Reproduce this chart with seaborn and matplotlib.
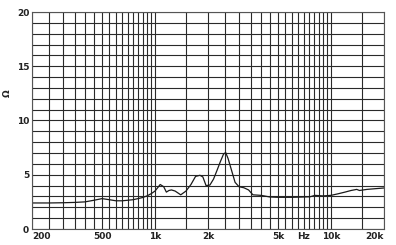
import matplotlib
matplotlib.use("Agg")
import matplotlib.pyplot as plt
import seaborn as sns
import numpy as np
import pandas as pd

freq = [200, 250, 300, 350, 400, 450, 500, 550, 600, 650, 700, 750, 800, 850, 900, 950,
        1000, 1070, 1120, 1160, 1200, 1240, 1300, 1400, 1500, 1600, 1700, 1800, 1870,
        1950, 2050, 2150, 2250, 2350, 2450, 2520, 2600, 2700, 2850, 3000, 3200, 3400,
        3600, 4000, 4500, 5000, 6000, 7000, 7600, 8100, 9000, 10000, 11000, 12000, 13000,
        14000, 14500, 16000, 18000, 20000]
impedance = [2.4, 2.4, 2.42, 2.45, 2.5, 2.65, 2.8, 2.7, 2.6, 2.6, 2.65, 2.7, 2.8, 2.9,
             3.05, 3.25, 3.5, 4.1, 3.9, 3.4, 3.55, 3.6, 3.5, 3.15, 3.5, 4.1, 4.85, 4.95,
             4.8, 4.0, 4.05, 4.6, 5.4, 6.2, 6.9, 7.05, 6.5, 5.6, 4.3, 3.9, 3.8, 3.6,
             3.15, 3.1, 2.95, 2.92, 2.92, 2.95, 2.97, 3.1, 3.05, 3.1, 3.25, 3.4, 3.55,
             3.65, 3.55, 3.65, 3.72, 3.78]

grid_freqs = list(range(250, 1000, 50)) + list(range(1000, 10001, 500)) + [15000]
label_freqs = [200, 500, 1000, 2000, 5000, 7000, 10000, 20000]
label_texts = ["200", "500", "1k", "2k", "5k", "Hz", "10k", "20k"]
y_ticks = [0, 5, 10, 15, 20]
y_grid = list(range(0, 21))

df = pd.DataFrame({"f": freq, "z": impedance})

sns.set_style("white")
fig = plt.figure(figsize=(3.96, 2.45), dpi=100)
ax = fig.add_axes([32 / 396, 16 / 245, 352 / 396, 217 / 245])

sns.lineplot(data=df, x="f", y="z", ax=ax, color="#1a1a1a", linewidth=0.9)
ax.set_xscale("log")
ax.set_xlim(200, 20000)
ax.set_ylim(0, 20)

ax.set_xticks(label_freqs)
ax.set_xticklabels(label_texts)
ax.set_xticks(grid_freqs, minor=True)
ax.xaxis.set_minor_formatter(matplotlib.ticker.NullFormatter())
ax.set_yticks(y_ticks)
ax.set_yticks(y_grid, minor=True)

ax.grid(which="both", axis="both", color="#2a2a2a", linewidth=0.8)
ax.set_axisbelow(True)
ax.tick_params(which="both", length=0, labelsize=6.5, pad=2)
for lab in ax.get_xticklabels() + ax.get_yticklabels():
    lab.set_fontweight("bold")
    lab.set_color("#222222")
xl = ax.get_xticklabels()
xl[0].set_horizontalalignment("left")
xl[-1].set_horizontalalignment("right")

for s in ax.spines.values():
    s.set_color("#555555")
    s.set_linewidth(0.8)

ax.set_xlabel("")
ax.set_ylabel("Ω", fontsize=6.5, fontweight="bold", rotation=90, color="#222222")
ax.yaxis.set_label_coords(-0.058, 0.625)

fig.savefig("out.png", dpi=100, facecolor="white")
